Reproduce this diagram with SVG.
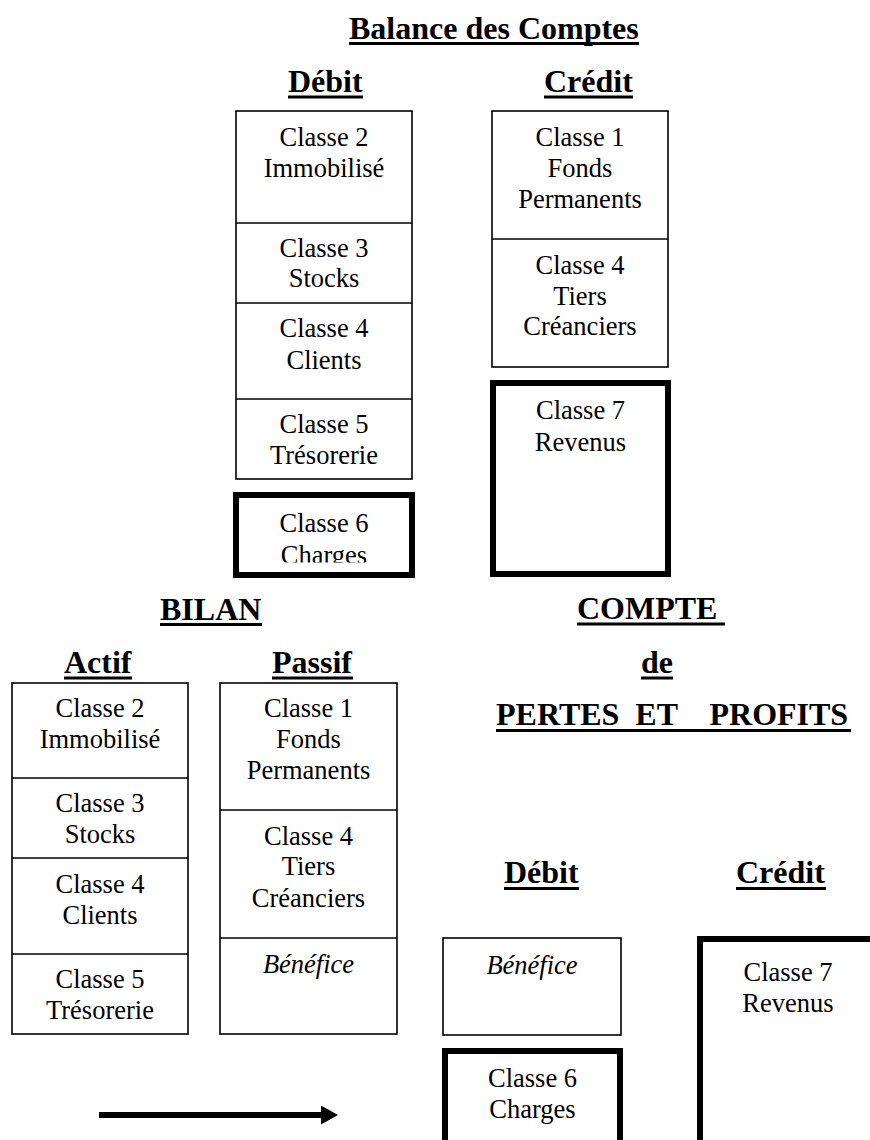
<svg xmlns="http://www.w3.org/2000/svg" width="870" height="1140" viewBox="0 0 870 1140">
<style>
  .bg{fill:#ffffff}
  .box{fill:#ffffff;stroke:#000000;stroke-width:1.6}
  .thick{fill:#ffffff;stroke:#000000;stroke-width:6}
  .div{stroke:#000000;stroke-width:1.6}
  .t{font-family:"Liberation Serif","Times New Roman",serif;font-size:26.5px;fill:#000000;text-anchor:middle}
  .it{font-style:italic}
  .h{font-family:"Liberation Serif","Times New Roman",serif;font-size:32px;font-weight:bold;fill:#000000}
  .ul{stroke:#000000;stroke-width:3}
  .arrow{stroke:#000000;stroke-width:6;fill:none}
</style>
<defs>
  <marker id="head" markerUnits="userSpaceOnUse" markerWidth="17" markerHeight="19" refX="0" refY="9.5" orient="auto">
    <path d="M0,0 L17,9.5 L0,19 Z" fill="#000000"/>
  </marker>
  <clipPath id="clip6"><rect x="236" y="495" width="176" height="67.5"/></clipPath>
</defs>
<rect class="bg" x="0" y="0" width="870" height="1140"/>

<g id="headings">
  <text class="h" x="349" y="39">Balance des Comptes</text>
  <line class="ul" x1="349" y1="43.5" x2="639" y2="43.5"/>
  <text class="h" x="288" y="92">Débit</text>
  <line class="ul" x1="288" y1="97" x2="363" y2="97"/>
  <text class="h" x="544" y="92">Crédit</text>
  <line class="ul" x1="544" y1="97" x2="633" y2="97"/>
  <text class="h" x="160" y="620">BILAN</text>
  <line class="ul" x1="160" y1="624.5" x2="262" y2="624.5"/>
  <text class="h" x="64" y="673">Actif</text>
  <line class="ul" x1="64" y1="678" x2="132" y2="678"/>
  <text class="h" x="272" y="673">Passif</text>
  <line class="ul" x1="272" y1="678" x2="353" y2="678"/>
  <text class="h" x="577" y="619">COMPTE</text>
  <line class="ul" x1="577" y1="624" x2="725" y2="624"/>
  <text class="h" x="641" y="673">de</text>
  <line class="ul" x1="641" y1="678" x2="673" y2="678"/>
  <text class="h" x="496" y="725" xml:space="preserve">PERTES  ET    PROFITS</text>
  <line class="ul" x1="496" y1="730.5" x2="851" y2="730.5"/>
  <text class="h" x="504" y="883">Débit</text>
  <line class="ul" x1="504" y1="888.5" x2="579" y2="888.5"/>
  <text class="h" x="736" y="883">Crédit</text>
  <line class="ul" x1="736" y1="888.5" x2="826" y2="888.5"/>
</g>

<!-- Balance des comptes : Débit -->
<g id="bal-debit">
  <rect class="box" x="236" y="111" width="176" height="368"/>
  <line class="div" x1="236" y1="223" x2="412" y2="223"/>
  <line class="div" x1="236" y1="303" x2="412" y2="303"/>
  <line class="div" x1="236" y1="399" x2="412" y2="399"/>
  <text class="t" x="324" y="146">Classe 2</text>
  <text class="t" x="324" y="177">Immobilisé</text>
  <text class="t" x="324" y="257">Classe 3</text>
  <text class="t" x="324" y="287">Stocks</text>
  <text class="t" x="324" y="337">Classe 4</text>
  <text class="t" x="324" y="369">Clients</text>
  <text class="t" x="324" y="433">Classe 5</text>
  <text class="t" x="324" y="464">Trésorerie</text>
</g>

<g id="bal-classe6">
  <rect class="thick" x="236" y="495" width="176" height="80"/>
  <g clip-path="url(#clip6)">
    <text class="t" x="324" y="532">Classe 6</text>
    <text class="t" x="324" y="563.5">Charges</text>
  </g>
</g>

<!-- Balance des comptes : Crédit -->
<g id="bal-credit">
  <rect class="box" x="492" y="111" width="176" height="256"/>
  <line class="div" x1="492" y1="239" x2="668" y2="239"/>
  <text class="t" x="580" y="146">Classe 1</text>
  <text class="t" x="580" y="177">Fonds</text>
  <text class="t" x="580" y="208">Permanents</text>
  <text class="t" x="580" y="274">Classe 4</text>
  <text class="t" x="580" y="305">Tiers</text>
  <text class="t" x="580" y="335">Créanciers</text>
</g>

<g id="bal-classe7">
  <rect class="thick" x="493" y="383" width="175" height="191"/>
  <text class="t" x="580.5" y="419">Classe 7</text>
  <text class="t" x="580.5" y="451">Revenus</text>
</g>

<!-- Bilan : Actif -->
<g id="bilan-actif">
  <rect class="box" x="12" y="683" width="176" height="351"/>
  <line class="div" x1="12" y1="778" x2="188" y2="778"/>
  <line class="div" x1="12" y1="858" x2="188" y2="858"/>
  <line class="div" x1="12" y1="954" x2="188" y2="954"/>
  <text class="t" x="100" y="717">Classe 2</text>
  <text class="t" x="100" y="748">Immobilisé</text>
  <text class="t" x="100" y="812">Classe 3</text>
  <text class="t" x="100" y="843">Stocks</text>
  <text class="t" x="100" y="893">Classe 4</text>
  <text class="t" x="100" y="924">Clients</text>
  <text class="t" x="100" y="988">Classe 5</text>
  <text class="t" x="100" y="1019">Trésorerie</text>
</g>

<!-- Bilan : Passif -->
<g id="bilan-passif">
  <rect class="box" x="220" y="683" width="177" height="351"/>
  <line class="div" x1="220" y1="810" x2="397" y2="810"/>
  <line class="div" x1="220" y1="938" x2="397" y2="938"/>
  <text class="t" x="308.5" y="717">Classe 1</text>
  <text class="t" x="308.5" y="748">Fonds</text>
  <text class="t" x="308.5" y="779">Permanents</text>
  <text class="t" x="308.5" y="845">Classe 4</text>
  <text class="t" x="308.5" y="875">Tiers</text>
  <text class="t" x="308.5" y="907">Créanciers</text>
  <text class="t it" x="308.5" y="973">Bénéfice</text>
</g>

<!-- Compte de pertes et profits -->
<g id="pp-benefice">
  <rect class="box" x="443" y="938" width="178" height="97"/>
  <text class="t it" x="532" y="974">Bénéfice</text>
</g>

<g id="pp-classe6">
  <rect class="thick" x="445" y="1051" width="175" height="120"/>
  <text class="t" x="532.5" y="1087">Classe 6</text>
  <text class="t" x="532.5" y="1118">Charges</text>
</g>

<g id="pp-classe7">
  <rect class="thick" x="700" y="939" width="220" height="240"/>
  <text class="t" x="788" y="981">Classe 7</text>
  <text class="t" x="788" y="1012">Revenus</text>
</g>

<g id="connectors">
  <line class="arrow" x1="99" y1="1115" x2="321" y2="1115" marker-end="url(#head)"/>
</g>
</svg>
